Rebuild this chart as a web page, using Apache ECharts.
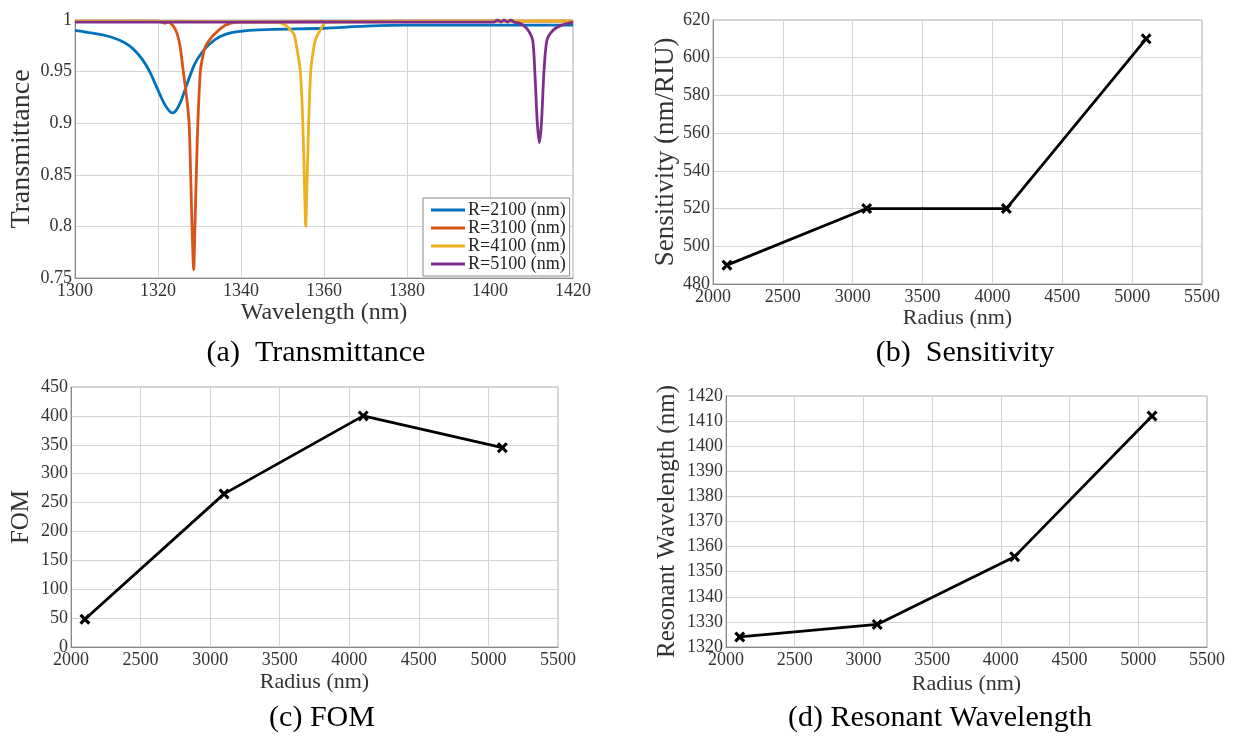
<!DOCTYPE html>
<html>
<head>
<meta charset="utf-8">
<title>Ring resonator sensor results</title>
<script src="https://cdn.jsdelivr.net/npm/echarts@6/dist/echarts.min.js"></script>
<style>
  html, body { margin: 0; padding: 0; background: #fff; }
  #chart { width: 1237px; height: 738px; }
</style>
</head>
<body>
<div id="chart"></div>
<script>
// (a) transmittance spectra
const blueWl = [1300, 1303, 1306, 1309, 1312, 1314, 1316, 1318, 1320, 1321.5, 1322.7, 1323.5, 1324.3, 1325.5, 1327, 1328.8, 1330.5, 1332.5, 1335, 1338, 1342, 1348, 1360, 1370, 1380, 1400, 1420];
const blueT  = [0.990, 0.988, 0.986, 0.983, 0.978, 0.972, 0.963, 0.950, 0.932, 0.919, 0.912, 0.910, 0.912, 0.921, 0.938, 0.957, 0.968, 0.977, 0.984, 0.988, 0.990, 0.991, 0.992, 0.994, 0.995, 0.995, 0.995];

const orangeWl = [1300, 1320, 1321.5, 1322.5, 1323.5, 1324.5, 1325.3, 1326.1, 1326.9, 1327.5, 1328.2, 1328.6, 1328.9, 1329.3, 1329.6, 1330.2, 1330.8, 1331.4, 1332.3, 1333.5, 1336.2, 1339.4, 1420];
const orangeT  = [0.999, 0.999, 0.997, 0.998, 0.995, 0.988, 0.975, 0.95, 0.925, 0.9, 0.8, 0.758, 0.8, 0.86, 0.9, 0.95, 0.965, 0.974, 0.98, 0.986, 0.995, 0.998, 0.999];

const yellowWl = [1300, 1349, 1351, 1352, 1352.8, 1353.5, 1354.3, 1354.9, 1355.3, 1355.6, 1355.9, 1356.3, 1356.8, 1357.4, 1358, 1358.8, 1359.5, 1360.5, 1420];
const yellowT  = [0.999, 0.998, 0.994, 0.99, 0.986, 0.972, 0.95, 0.9, 0.84, 0.80, 0.84, 0.9, 0.95, 0.97, 0.982, 0.988, 0.993, 0.998, 0.999];

const purpleWl = [1300, 1400, 1401, 1401.8, 1402.6, 1403.4, 1404.2, 1405, 1405.8, 1407, 1408, 1409.2, 1410.3, 1410.8, 1411.4, 1411.9, 1412.4, 1413, 1413.7, 1415.2, 1417.3, 1420];
const purpleT  = [0.998, 0.998, 0.998, 1.0, 0.998, 1.0, 0.998, 1.0, 0.998, 0.997, 0.995, 0.99, 0.98, 0.95, 0.9, 0.881, 0.9, 0.95, 0.98, 0.99, 0.995, 0.998];

const legendNames = ['R=2100 (nm)', 'R=3100 (nm)', 'R=4100 (nm)', 'R=5100 (nm)'];
const lineColors = ['#0072BD', '#D95319', '#EDB120', '#7E2F8E'];

// (b), (c), (d)
const radius = [2100, 3100, 4100, 5100];
const sensitivity = [490, 520, 520, 610];
const fom = [48, 265, 400, 345];
const resonantWl = [1324, 1329, 1356, 1412];

const FONT = "'Liberation Serif', 'DejaVu Serif', serif";
const xMark = 'path://M0,2L2,0L5,3L8,0L10,2L7,5L10,8L8,10L5,7L2,10L0,8L3,5Z';

function zip(xs, ys) {
  return xs.map((x, i) => [x, ys[i]]);
}

function plain(v) {
  return String(v);
}

function axisX(gridIndex, min, max, interval, name, nameGap, nameSize) {
  return {
    type: 'value', gridIndex, min, max, interval,
    name, nameLocation: 'middle', nameGap,
    nameTextStyle: { fontFamily: FONT, fontSize: nameSize, color: '#333' },
    axisLine: { show: true, lineStyle: { color: '#888', width: 1 } },
    axisTick: { show: false },
    axisLabel: { fontFamily: FONT, fontSize: 18, color: '#333', margin: 4, formatter: plain },
    splitLine: { show: true, lineStyle: { color: '#d4d4d4', width: 1 } }
  };
}

function axisY(gridIndex, min, max, interval, name, nameGap, nameSize) {
  return {
    type: 'value', gridIndex, min, max, interval,
    name, nameLocation: 'middle', nameGap,
    nameTextStyle: { fontFamily: FONT, fontSize: nameSize, color: '#333' },
    axisLine: { show: true, lineStyle: { color: '#888', width: 1 } },
    axisTick: { show: false },
    axisLabel: { fontFamily: FONT, fontSize: 18, color: '#333', margin: 3, padding: [0, 0, 5, 0], formatter: plain },
    splitLine: { show: true, lineStyle: { color: '#d4d4d4', width: 1 } }
  };
}

function spectrum(i, wl, t) {
  return {
    name: legendNames[i], type: 'line', xAxisIndex: 0, yAxisIndex: 0,
    data: zip(wl, t), showSymbol: false, symbol: 'none',
    smooth: 0.25,
    lineStyle: { color: lineColors[i], width: 2.8 },
    itemStyle: { color: lineColors[i] }
  };
}

function blackLine(idx, ys) {
  return {
    type: 'line', xAxisIndex: idx, yAxisIndex: idx,
    data: zip(radius, ys),
    symbol: xMark, symbolSize: 11,
    lineStyle: { color: '#000', width: 2.8 },
    itemStyle: { color: '#000' }
  };
}

function caption(text, x, y) {
  return {
    type: 'text', x, y,
    style: { text, font: "30px 'Liberation Serif', serif", fill: '#000', align: 'center', verticalAlign: 'middle' }
  };
}

const chart = echarts.init(document.getElementById('chart'));
chart.setOption({
  backgroundColor: '#fff',
  animation: false,
  grid: [
    { left: 75, top: 20, width: 498, height: 258, show: true, borderColor: '#aaa', borderWidth: 1 },
    { left: 713, top: 20, width: 489, height: 264, show: true, borderColor: '#aaa', borderWidth: 1 },
    { left: 71, top: 387, width: 487, height: 260, show: true, borderColor: '#aaa', borderWidth: 1 },
    { left: 726, top: 396, width: 481, height: 251, show: true, borderColor: '#aaa', borderWidth: 1 }
  ],
  xAxis: [
    axisX(0, 1300, 1420, 20, 'Wavelength (nm)', 22, 24),
    axisX(1, 2000, 5500, 500, 'Radius (nm)', 22, 22),
    axisX(2, 2000, 5500, 500, 'Radius (nm)', 24, 22),
    axisX(3, 2000, 5500, 500, 'Radius (nm)', 26, 22)
  ],
  yAxis: [
    axisY(0, 0.75, 1, 0.05, 'Transmittance', 39, 28),
    axisY(1, 480, 620, 20, 'Sensitivity (nm/RIU)', 32, 27),
    axisY(2, 0, 450, 50, 'FOM', 37, 25),
    axisY(3, 1320, 1420, 10, 'Resonant Wavelength (nm)', 46, 25)
  ],
  legend: {
    data: legendNames,
    left: 423, top: 198,
    orient: 'vertical',
    icon: 'rect', itemWidth: 34, itemHeight: 3, itemGap: 0,
    padding: [3, 4, 3, 8],
    backgroundColor: '#fff', borderColor: '#888', borderWidth: 1,
    selectedMode: false,
    textStyle: { fontFamily: FONT, fontSize: 18, color: '#222', lineHeight: 17, padding: [0, 0, 0, -2] }
  },
  series: [
    spectrum(0, blueWl, blueT),
    spectrum(1, orangeWl, orangeT),
    spectrum(2, yellowWl, yellowT),
    spectrum(3, purpleWl, purpleT),
    blackLine(1, sensitivity),
    blackLine(2, fom),
    blackLine(3, resonantWl)
  ],
  graphic: [
    caption('(a)  Transmittance', 316, 353),
    caption('(b)  Sensitivity', 965, 353),
    caption('(c) FOM', 322, 718),
    caption('(d) Resonant Wavelength', 940, 718)
  ]
});
</script>
</body>
</html>
